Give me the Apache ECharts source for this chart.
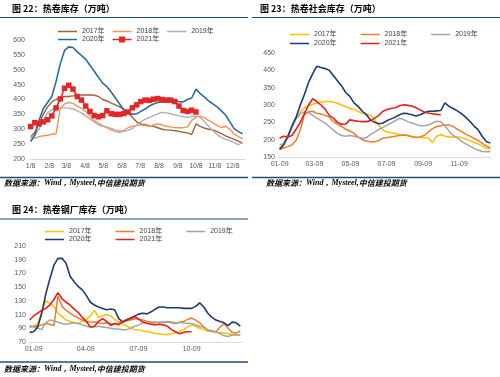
<!DOCTYPE html>
<html>
<head>
<meta charset="utf-8">
<script src="https://cdn.jsdelivr.net/npm/echarts@6/dist/echarts.min.js"></script>
<style>
  html, body { margin: 0; padding: 0; background: #fff; }
  #main { width: 500px; height: 377px; }
</style>
</head>
<body>
<div id="main"></div>
<script>
// 图22 热卷库存 (weekly, from 1/8)
const stockTicks = ['1/8', '2/8', '3/8', '4/8', '5/8', '6/8', '7/8', '8/8', '9/8', '10/8', '11/8', '12/8'];
const stock2017 = [275, 290, 320, 350, 375, 392, 400, 405, 410, 410, 412, 415, 415, 415, 415, 415, 410, 400, 395, 388, 382, 375, 368, 355, 340, 325, 318, 315, 312, 310, 305, 300, 298, 297, 295, 293, 290, 288, 282, 318, 310, 304, 300, 298, 292, 285, 278, 272, 266, 260, 253];
const stock2018 = [272, 270, 275, 278, 280, 283, 285, 370, 385, 390, 387, 378, 370, 360, 345, 330, 320, 312, 305, 298, 292, 290, 295, 305, 310, 312, 315, 312, 310, 315, 318, 315, 310, 308, 306, 305, 305, 308, 330, 340, 345, 338, 330, 322, 312, 306, 310, 300, 285, 275, 268];
const stock2019 = [275, 280, 300, 330, 355, 365, 372, 372, 372, 370, 368, 362, 355, 345, 335, 325, 315, 310, 308, 303, 298, 295, 293, 296, 302, 315, 325, 333, 340, 346, 352, 357, 355, 352, 348, 345, 342, 340, 342, 345, 340, 325, 310, 295, 282, 272, 266, 262, 255, 248, 255];
const stock2020 = [259, 280, 330, 370, 390, 410, 460, 520, 565, 577, 575, 560, 548, 535, 515, 495, 475, 455, 443, 425, 405, 385, 365, 355, 350, 352, 360, 368, 378, 385, 390, 392, 393, 392, 395, 393, 392, 400, 405, 435, 420, 408, 395, 385, 375, 362, 348, 325, 302, 292, 285];
const stock2021 = [309, 322, 318, 325, 332, 345, 372, 402, 438, 448, 435, 410, 398, 378, 360, 346, 342, 346, 362, 352, 350, 350, 353, 358, 372, 382, 393, 398, 397, 401, 403, 400, 398, 398, 393, 378, 363, 360, 364, 358];

// 图23 热卷社会库存 (weekly, from 01-09)
const socialTicks = ['01-09', '03-09', '05-09', '07-09', '09-09', '11-09'];
const social2017 = [175, 190, 210, 235, 262, 280, 292, 298, 302, 305, 308, 310, 310, 308, 305, 300, 295, 290, 288, 282, 276, 274, 270, 258, 240, 228, 222, 220, 218, 215, 213, 212, 210, 208, 207, 205, 205, 192, 210, 215, 210, 208, 208, 208, 206, 202, 198, 192, 188, 182, 176, 172];
const social2018 = [172, 176, 180, 185, 198, 228, 272, 280, 282, 276, 274, 270, 265, 252, 244, 238, 230, 225, 218, 208, 200, 196, 194, 194, 198, 204, 206, 208, 210, 212, 214, 212, 208, 206, 208, 212, 222, 232, 238, 240, 242, 242, 238, 230, 224, 216, 210, 204, 198, 190, 182, 176];
const social2019 = [185, 188, 205, 235, 260, 275, 280, 278, 270, 262, 255, 248, 238, 228, 218, 212, 210, 212, 210, 207, 204, 206, 215, 222, 230, 235, 242, 248, 255, 262, 258, 252, 248, 244, 240, 240, 242, 248, 253, 252, 240, 225, 212, 205, 195, 188, 182, 175, 170, 166, 165, 165];
const social2020 = [172, 185, 210, 240, 265, 300, 330, 365, 390, 412, 408, 405, 400, 385, 370, 355, 336, 325, 306, 296, 282, 272, 257, 250, 246, 248, 255, 260, 265, 272, 276, 275, 272, 268, 272, 277, 282, 282, 283, 284, 306, 296, 290, 283, 275, 265, 253, 240, 229, 210, 195, 190];
const social2021 = [205, 210, 208, 212, 230, 250, 275, 300, 318, 310, 300, 288, 270, 262, 250, 244, 245, 257, 255, 253, 252, 252, 255, 262, 270, 282, 287, 290, 292, 298, 301, 299, 297, 292, 286, 280, 277, 275, 273, 272];

// 图24 热卷钢厂库存 (weekly, from 01-02)
const millTicks = ['01-09', '04-09', '07-09', '10-09'];
const mill2017 = [92, 93, 96, 115, 130, 126, 122, 112, 107, 102, 100, 98, 97, 100, 103, 108, 116, 106, 108, 110, 108, 103, 99, 96, 93, 90, 88, 88, 86, 85, 84, 82, 82, 81, 81, 82, 83, 85, 88, 92, 95, 93, 90, 88, 86, 85, 84, 84, 83, 82, 81, 80, 81];
const mill2018 = [92, 93, 93, 95, 97, 96, 94, 137, 122, 116, 112, 108, 105, 102, 100, 99, 99, 98, 97, 98, 97, 96, 98, 99, 101, 102, 104, 103, 102, 100, 99, 99, 98, 99, 99, 98, 97, 99, 100, 103, 105, 102, 98, 92, 87, 86, 85, 92, 97, 90, 84, 83, 86];
const mill2019 = [94, 92, 90, 88, 98, 102, 101, 99, 97, 96, 97, 98, 97, 95, 93, 92, 92, 93, 92, 91, 90, 89, 89, 88, 88, 90, 93, 95, 98, 98, 97, 98, 99, 99, 100, 99, 98, 98, 98, 97, 97, 95, 93, 91, 88, 86, 85, 82, 79, 78, 80, 81, 80];
const mill2020 = [84, 85, 92, 112, 140, 162, 182, 192, 192, 185, 166, 158, 151, 146, 138, 128, 124, 121, 119, 117, 118, 117, 104, 99, 102, 105, 108, 111, 112, 111, 114, 118, 121, 121, 120, 120, 120, 120, 119, 119, 119, 122, 127, 121, 112, 106, 102, 100, 98, 94, 99, 98, 93];
const mill2021 = [102, 108, 112, 116, 119, 124, 132, 142, 133, 128, 124, 118, 113, 106, 100, 92, 93, 100, 104, 100, 94, 97, 95, 100, 103, 104, 107, 103, 99, 97, 96, 95, 96, 95, 93, 88, 85, 82, 84, 85, 85];

const FONT = 'Arial, "Liberation Sans", "Noto Sans CJK SC", sans-serif';
const CJK = '"Noto Sans CJK SC", sans-serif';

const dayOf = (m, d) => (Date.UTC(2021, m - 1, d) - Date.UTC(2021, 0, 1)) / 86400000;
const parseTick = (t) => {
  const [m, d] = t.split(/[\/-]/).map(Number);
  return dayOf(m, d);
};
const weekly = (startDay, values) => values.map((v, i) => [startDay + 7 * i, v]);

const lineIcon = 'path://M0,0h0.01v0.01h-0.01z M0,2.25H19V3.75H0z M18.99,5.99h0.01v0.01h-0.01z';
const markIcon = 'path://M0,0h0.01v0.01h-0.01z M0,2.25H19V3.75H0z M6.5,0H12.5V6H6.5z M18.99,5.99h0.01v0.01h-0.01z';

function xAxis(gridIndex, min, max, ticks) {
  const pos = ticks.map(parseTick);
  return {
    type: 'value', gridIndex, min, max,
    splitLine: { show: false },
    axisTick: { show: false },
    axisLine: { lineStyle: { color: '#D9D9D9', width: 1 } },
    axisLabel: {
      customValues: pos,
      formatter: (v) => ticks[pos.indexOf(v)],
      fontSize: 7, color: '#595959', fontFamily: FONT, margin: 4
    }
  };
}

function yAxis(gridIndex, min, max, interval, margin) {
  return {
    type: 'value', gridIndex, min, max, interval,
    splitLine: { show: false },
    axisLine: { show: false },
    axisTick: { show: false },
    axisLabel: { fontSize: 7, color: '#595959', fontFamily: FONT, margin }
  };
}

function legendRow(names, left, top, gap) {
  return {
    data: names.map((n) => ({ name: n, icon: n === 'g1-2021' ? markIcon : lineIcon })),
    left, top, itemGap: gap, itemWidth: 19, itemHeight: 6, padding: 0,
    formatter: (n) => n.split('-')[1] + '年',
    textStyle: { fontSize: 7, color: '#404040', fontFamily: FONT }
  };
}

function line(name, idx, startDay, values, color, width) {
  return {
    name, type: 'line', xAxisIndex: idx, yAxisIndex: idx,
    data: weekly(startDay, values),
    showSymbol: false, symbol: 'none',
    lineStyle: { color, width },
    itemStyle: { color },
    emphasis: { disabled: true }
  };
}

const c1 = { y2017: '#A0603A', y2018: '#F5925A', y2019: '#B0B0B0', y2020: '#2C6C9B', y2021: '#E32626' };
const c2 = { y2017: '#FFC000', y2018: '#ED7D31', y2019: '#A5A5A5', y2020: '#1F3A6E', y2021: '#E3211E' };

const start1 = dayOf(1, 8);
const start2 = dayOf(1, 9);
const start3 = dayOf(1, 2);

const redMarked = line('g1-2021', 0, start1, stock2021, c1.y2021, 1.5);
redMarked.showSymbol = true;
redMarked.symbol = 'rect';
redMarked.symbolSize = 5.5;

const titleStyle = { fontSize: 9, fontWeight: 'bold', color: '#000', fontFamily: CJK };
const sourceRich = {
  a: { fontSize: 8, fontWeight: 'bold', fontStyle: 'italic', fontFamily: CJK, fill: '#000' },
  b: { fontSize: 8, fontWeight: 'bold', fontStyle: 'italic', fontFamily: '"Liberation Serif", serif', fill: '#000' }
};
const sourceText = '{a|数据来源：}{b|Wind，Mysteel,}{a|中信建投期货}';
const ruleColor = '#1F4E79';

const option = {
  animation: false,
  backgroundColor: '#fff',
  title: [
    { text: '图 22：热卷库存（万吨）', left: 12, top: 4, padding: 0, textStyle: titleStyle },
    { text: '图 23：热卷社会库存（万吨）', left: 260, top: 4, padding: 0, textStyle: titleStyle },
    { text: '图 24：热卷钢厂库存（万吨）', left: 12, top: 205, padding: 0, textStyle: titleStyle }
  ],
  legend: [
    legendRow(['g1-2017', 'g1-2018', 'g1-2019'], 58, 28, 8),
    legendRow(['g1-2020', 'g1-2021'], 58, 36, 8),
    legendRow(['g2-2017', 'g2-2018', 'g2-2019'], 290, 31, 24),
    legendRow(['g2-2020', 'g2-2021'], 290, 40, 24),
    legendRow(['g3-2017', 'g3-2018', 'g3-2019'], 45, 228, 24),
    legendRow(['g3-2020', 'g3-2021'], 45, 236, 24)
  ],
  grid: [
    { left: 30, top: 40, width: 215, height: 119 },
    { left: 279, top: 53, width: 212, height: 104 },
    { left: 29, top: 246, width: 213, height: 96 }
  ],
  xAxis: [
    xAxis(0, 6, 361, stockTicks),
    xAxis(1, 7, 366, socialTicks),
    xAxis(2, 0, 368, millTicks)
  ],
  yAxis: [
    yAxis(0, 200, 600, 50, 5),
    yAxis(1, 150, 450, 50, 4),
    yAxis(2, 70, 210, 20, 3)
  ],
  series: [
    line('g1-2017', 0, start1, stock2017, c1.y2017, 1.4),
    line('g1-2018', 0, start1, stock2018, c1.y2018, 1.4),
    line('g1-2019', 0, start1, stock2019, c1.y2019, 1.4),
    line('g1-2020', 0, start1, stock2020, c1.y2020, 1.6),
    redMarked,
    line('g2-2017', 1, start2, social2017, c2.y2017, 1.5),
    line('g2-2018', 1, start2, social2018, c2.y2018, 1.5),
    line('g2-2019', 1, start2, social2019, c2.y2019, 1.5),
    line('g2-2020', 1, start2, social2020, c2.y2020, 1.6),
    line('g2-2021', 1, start2, social2021, c2.y2021, 1.6),
    line('g3-2017', 2, start3, mill2017, c2.y2017, 1.5),
    line('g3-2018', 2, start3, mill2018, c2.y2018, 1.5),
    line('g3-2019', 2, start3, mill2019, c2.y2019, 1.5),
    line('g3-2020', 2, start3, mill2020, c2.y2020, 1.6),
    line('g3-2021', 2, start3, mill2021, c2.y2021, 1.6)
  ],
  graphic: [
    { type: 'line', shape: { x1: 0, y1: 17.5, x2: 248, y2: 17.5 }, style: { stroke: ruleColor, lineWidth: 1 } },
    { type: 'line', shape: { x1: 252, y1: 17.5, x2: 500, y2: 17.5 }, style: { stroke: ruleColor, lineWidth: 1 } },
    { type: 'line', shape: { x1: 0, y1: 177.5, x2: 248, y2: 177.5 }, style: { stroke: ruleColor, lineWidth: 1.5 } },
    { type: 'line', shape: { x1: 252, y1: 177.5, x2: 500, y2: 177.5 }, style: { stroke: ruleColor, lineWidth: 1.5 } },
    { type: 'line', shape: { x1: 0, y1: 219, x2: 248, y2: 219 }, style: { stroke: ruleColor, lineWidth: 1 } },
    { type: 'line', shape: { x1: 0, y1: 362, x2: 248, y2: 362 }, style: { stroke: ruleColor, lineWidth: 1.5 } },
    { type: 'text', left: 4, top: 179, style: { text: sourceText, rich: sourceRich } },
    { type: 'text', left: 266, top: 179, style: { text: sourceText, rich: sourceRich } },
    { type: 'text', left: 4, top: 365, style: { text: sourceText, rich: sourceRich } }
  ]
};

const chart = echarts.init(document.getElementById('main'));
chart.setOption(option);
</script>
</body>
</html>
